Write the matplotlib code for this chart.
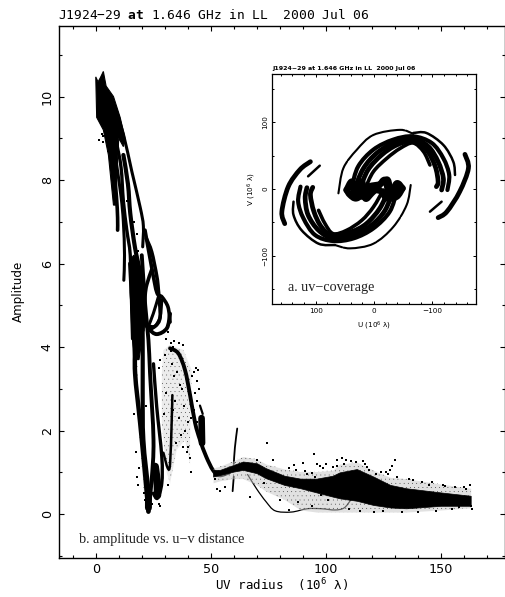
import matplotlib
matplotlib.use("Agg")
import matplotlib.pyplot as plt
from matplotlib.path import Path
from matplotlib.patches import PathPatch
from matplotlib.ticker import MultipleLocator

plt.rcParams['hatch.linewidth'] = 0.0
plt.rcParams['font.family'] = ['DejaVu Sans']
plt.rcParams['mathtext.fontset'] = 'custom'
plt.rcParams['mathtext.rm'] = 'DejaVu Sans Mono'
plt.rcParams['mathtext.bf'] = 'DejaVu Sans Mono:bold'
plt.rcParams['mathtext.default'] = 'regular'

TITLE_MAIN = "J1924\u221229 $\\mathbf{at}$ 1.646 GHz in LL  2000 Jul 06"
TITLE_INSET = "J1924\u221229 at 1.646 GHz in LL  2000 Jul 06"
MAIN_XLABEL = "UV radius  (10$^{6}$ \u03bb)"
MAIN_YLABEL = "Amplitude"
INSET_XLABEL = "U (10$^{6}$ \u03bb)"
INSET_YLABEL = "V (10$^{6}$ \u03bb)"
NOTE_A = "a. uv\u2212coverage"
NOTE_B = "b. amplitude vs. u\u2212v distance"

# ---- amplitude vs radius (radius, amplitude) ----
mass_top = [(0,10.47),(1,10.35),(2,10.45),(3.3,10.6),(4.5,10.25),(7.7,10),(10.6,9.5),(12.7,9.0),(12,8.8),(10,9.0),
            (9.5,8.5),(8.7,7.4),(7.7,7.4),(5.5,8.6),(3.3,9.2),(0.4,9.5)]
mass_mid = [(15.2,6.1),(16.5,6.2),(18.5,6.1),(20,5.6),(21,5.0),(20.5,4.4),(19.6,4.0),(18.8,3.7),(16.5,3.7),(15.6,4.5),(15,5.3)]
track_a = [(8.4,9.75),(12,9.1),(15.7,8.2),(19.3,7.35),(20.7,6.9),(20.4,6.4)]
track_b = [(6,9.5),(7,8.8),(8,8.2),(9,7.6),(9.5,7.1),(9.5,6.8)]
track_c = [(7,9.2),(9,8.4),(11,7.6),(12,7.0),(12.5,6.2),(12.2,5.6)]
track_d = [(9,8.9),(11,8.3),(12,7.5),(13.5,6.8),(15,6.2),(15.5,5.2),(16,4.2)]
track_e = [(12,8.6),(14,7.9),(15,7.2),(17,6.4),(19.3,5.77),(20.7,5.12),(21.5,4.6)]
track_f = [(21.4,6.8),(24.5,5.85),(26.6,5.3),(28.8,5.2),(31.4,4.96),(32.3,4.6)]
track_g = [(22,6.6),(24.3,6.28),(26.5,5.7),(27.2,5.37),(28,4.73),(25.8,4.5),(22.9,4.5)]
loop_outer = [(32.3,4.8),(30.9,4.45),(26.5,4.31),(22.9,4.45),(20,4.73),(18.5,5.12)]
loop_mid = [(28.7,5.12),(28,4.73),(25.8,4.5),(23,4.4)]
loop_inner = [(27.2,5.2),(25,4.8),(22.9,4.5)]
track_h = [(24.3,5.85),(22.2,5.5),(21.4,5.2),(20.5,4.4)]
strand_1 = [(15,6.0),(16,5.0),(17.1,4.17),(17.1,3.37),(19.3,2.18),(21.4,0.98),(22.9,0.06)]
strand_2 = [(18,6.0),(20,5.0),(20.4,4.17),(20.4,2.97),(20.7,1.78),(22.9,0.58)]
strand_3 = [(20,6.2),(21.5,5.0),(22.9,4.17),(23.6,3.37),(25.1,1.78),(24.3,0.82),(22.9,0.06)]
strand_4 = [(25.1,3.6),(26.5,2.57),(28.7,1.38),(28.7,0.74),(26.8,0.38),(25.0,0.5)]
bulb = [(25.8,1.14),(26.8,0.7),(26.8,0.45)]
foot = [(22.9,0.55),(22.9,0.15)]
strand_5 = [(29.4,1.47),(31.3,1.1),(32.3,1.2),(33,2.2),(33.3,2.85)]
arc_peak = [(32.3,3.97),(35.9,3.85),(38.8,3.45),(41,2.85),(43.2,2.18),(45.3,1.78),(48,1.38),(51,1.05),(53.8,0.93),(58,1.0)]
clump = [(46,2.3),(46.2,1.7)]
dash = [(45.3,2.6),(46.5,2.4)]
spike_low = [(59.5,0.55),(60,0.9)]
spike_high = [(60,1.2),(60.5,1.6),(61.5,2.05)]
dip = [(66,0.95),(70,0.6),(74,0.3),(78,0.08),(85,0.05),(92,0.13),(98,0.13),(104,0.1),(108,0.15),(111,0.35)]

band_x = [51,54,60,64,70,74,82,89,96,103,106,113.5,120.7,128,135,150,163]
band_hi = [1.06,1.06,1.18,1.26,1.22,1.1,0.92,0.85,0.85,0.92,1.0,1.08,0.9,0.7,0.62,0.52,0.44]
band_lo = [0.9,0.94,1.02,1.06,0.98,0.86,0.7,0.62,0.52,0.42,0.38,0.32,0.22,0.16,0.14,0.2,0.2]
fringe_hi = [1.1,1.15,1.28,1.38,1.32,1.2,1.08,1.02,1.02,1.05,1.2,1.25,1.05,0.88,0.85,0.72,0.62]
fringe_lo = [0.75,0.8,0.85,0.85,0.7,0.55,0.35,0.1,0.05,0.05,0.05,0.05,0.05,0.05,0.05,0.1,0.15]

cloud_peak = [(28.7,3.37),(29.4,3.93),(32.3,4.05),(38.1,3.93),(41.7,3.45),(41,1.78),(41,1.2),(38.8,1.78),
              (35.2,1.54),(32.3,0.74),(30.8,1.0),(28.7,2.2)]
fringe_left = [(16,4.6),(17.5,3),(19.5,1.5),(21,0.4),(21.8,0.6),(20.5,1.6),(18.5,3),(17.5,4.6)]

stray_x = [3.0,3.3,2.6,1.6,5.5,8.0,9.5,13.7,15.2,16.5,17.8,14.8,18.2,30.5,31.5,32.8,33.5,31,32.5,30,33,
           42.5,43.5,44.5,44,43,45,42,41.2,40.8,41.5,38,36,34,28,27.5,19.5,18.8,22,20.5,19,18,
           17.5,16.8,17,18.5,21,21.2,24.5,27.5,28,31.5,40,74.5,77,70,73,67,95,97.5,96,95.2,107,
           109,130,129,126,128,138,145,152,160,162.5,163,163.5,119,122,117,113,105,100,90,86,92,
           56,52.5,52,54,80,84,88,94,98,101,110,115,121,125,133,140,148,155,158,
           36.5,38.5,40,37,34.5,39.5,35.5,42.8,44.2,43.8,34,36,37.5,39,35,33.5,30.5,29.8,38,
           84,87,91,94,99,103,105,108,111,116,118,124,127,131,136,142,146,151,156,161]
stray_y = [8.9,9.05,9.1,8.95,8.7,8.5,7.3,7.5,7.2,7.0,6.7,7.6,6.3,4.2,4.35,4.1,4.0,4.5,3.9,3.8,3.6,
           3.4,3.5,3.45,3.2,2.9,3.0,3.3,1.0,1.35,2.3,4.05,4.1,4.15,3.7,3.5,4.9,5.4,2.6,2.1,1.1,0.9,
           1.5,2.4,3.1,0.7,0.5,0.35,0.25,0.25,0.2,0.7,1.6,1.7,1.3,1.3,0.75,0.4,1.45,1.15,1.2,0.9,1.35,
           1.3,1.3,1.15,1.0,1.05,0.82,0.7,0.68,0.66,0.7,0.2,0.12,1.05,0.95,1.2,1.25,1.3,1.2,1.22,1.18,0.95,
           0.65,0.6,0.85,0.55,0.35,0.1,0.3,0.2,0.45,0.35,0.12,0.08,0.05,0.08,0.06,0.04,0.08,0.12,0.16,
           3.1,2.6,2.2,1.9,2.7,1.5,3.4,2.5,2.7,2.2,3.3,2.3,3.0,2.0,1.7,2.5,2.9,2.4,1.6,
           1.1,1.05,1.04,0.98,1.1,1.12,1.15,1.2,1.28,1.27,1.12,1.0,0.95,0.88,0.84,0.78,0.76,0.7,0.66,0.6]

# ---- uv coverage (U, V) ----
ur_outer = [(61,-6.5),(52.6,31),(29.7,58.6),(1.1,81),(-44.6,88.7),(-67.4,82.7)]
ur_outer2 = [(-67.4,84),(-90,84),(-119,66),(-136,41),(-139,21)]
ur_far = [(-156,52),(-162,31),(-147,-4),(-125,-34),(-110,-43)]
ur_dash = [(-96,-34),(-116,-19)]
ur_a = [(38,3.5),(27,34),(1,59),(-33,74),(-67,79),(-99,69),(-119,46),(-129,21),(-126,-1.5)]
ur_b = [(33,1),(18,31),(-5,54),(-36,70),(-67,75),(-93,64),(-110,41),(-119,16),(-116,-1.5)]
ur_c = [(24,1),(10,29),(-13,51),(-39,66),(-67,72),(-90,59),(-105,34),(-110,11),(-107,3.5)]
ur_d = [(15,1),(1,26),(-22,46),(-45,61),(-67,69),(-85,56),(-96,36)]
ll_outer = [(-63,6),(-56,-24),(-33,-57),(1,-82),(41,-89),(67,-84)]
ll_outer2 = [(67,-84),(95,-82),(124,-62),(138,-39),(138,-19)]
ll_far = [(153,-52),(158,-34),(147,3.5),(127,29),(109,41)]
ll_dash = [(113,19),(93,35)]
ll_a = [(-39,-4),(-27,-34),(1,-59),(35,-74),(70,-78),(101,-69),(121,-44),(130,-19),(126,3.5)]
ll_b = [(-33,-1.5),(-19,-32),(4,-54),(35,-69),(70,-74),(95,-62),(113,-39),(118,-14),(115,2)]
ll_c = [(-25,-1.5),(-10,-29),(13,-52),(38,-64),(70,-71),(90,-57),(103,-34),(109,-9),(105,2.5)]
ll_d = [(-16,-1.5),(1,-27),(21,-47),(47,-62),(70,-67),(84,-52),(95,-32)]
centre_a = [(47,-1.5),(38,11),(33,-9),(21,11),(15,-14),(4,-6.5),(-7.4,3.5),(-19,13.5),(-27,-9),(-39,8.5),(-49,1)]
centre_b = [(-49,1),(-39,-11.5),(-22,-14),(-13,-4),(-1.7,-1.5),(12,-4),(30,-14),(41,-9),(47,-1.5)]
centre_c = [(38,-10),(28,8),(20,-12),(12,3),(-12,8),(-24,14),(-32,-12),(-42,5)]


def curve(ax, pts, lw, ls='-'):
    verts = [pts[0]]
    codes = [Path.MOVETO]
    for i in range(len(pts) - 1):
        p0 = pts[max(i - 1, 0)]
        p1 = pts[i]
        p2 = pts[i + 1]
        p3 = pts[min(i + 2, len(pts) - 1)]
        c1 = (p1[0] + (p2[0] - p0[0]) / 6, p1[1] + (p2[1] - p0[1]) / 6)
        c2 = (p2[0] - (p3[0] - p1[0]) / 6, p2[1] - (p3[1] - p1[1]) / 6)
        verts += [c1, c2, p2]
        codes += [Path.CURVE4] * 3
    ax.add_patch(PathPatch(Path(verts, codes), fc='none', ec='k', lw=lw, ls=ls,
                           capstyle='round', joinstyle='round'))


def style(ax, w):
    for s in ax.spines.values():
        s.set_linewidth(w)
    ax.tick_params(which='both', direction='in', top=True, right=True, width=w * 0.8)


fig = plt.figure(figsize=(5.05, 5.97), dpi=100)
W, H = 505.0, 597.0

# main panel
ax = fig.add_axes([58.5 / W, 1 - 558 / H, (504.5 - 58.5) / W, (558 - 25.5) / H])
ax.set_xlim(-16.2, 177.7)
ax.set_ylim(-1.05, 11.7)
ax.xaxis.set_major_locator(MultipleLocator(50))
ax.xaxis.set_minor_locator(MultipleLocator(10))
ax.yaxis.set_major_locator(MultipleLocator(2))
ax.yaxis.set_minor_locator(MultipleLocator(1))
style(ax, 1.0)
ax.tick_params(which='major', length=3.8, labelsize=9.2, pad=3.5)
ax.tick_params(which='minor', length=2.0)
for t in ax.get_yticklabels():
    t.set_rotation(90)
    t.set_va('center')
ax.set_xlabel(MAIN_XLABEL, fontsize=9, family='DejaVu Sans Mono', labelpad=0.5)
ax.set_ylabel(MAIN_YLABEL, fontsize=8.6, labelpad=11)
ax.set_title(TITLE_MAIN, fontsize=9.25, family='DejaVu Sans Mono', loc='left', pad=5)

ax.fill([p[0] for p in mass_top], [p[1] for p in mass_top], color='k', lw=0.8)
ax.fill([p[0] for p in mass_mid], [p[1] for p in mass_mid], color='k', lw=0.8)
for tr, lw in [(track_a, 2.2), (track_b, 2.6), (track_c, 2.2), (track_d, 2.4), (track_e, 3.0),
               (track_f, 2.6), (track_g, 2.6), (loop_outer, 2.8), (loop_mid, 2.2), (loop_inner, 2.2),
               (track_h, 2.6), (strand_1, 3.2), (strand_2, 3.0), (strand_3, 2.8), (strand_4, 2.4),
               (bulb, 5.5), (foot, 5.0), (strand_5, 1.8), (arc_peak, 2.8), (clump, 4.8), (dash, 1.6),
               (spike_low, 1.3), (spike_high, 1.3), (dip, 0.9)]:
    curve(ax, tr, lw)
ax.fill_between(band_x, fringe_lo, fringe_hi, color='#c4c4c4', lw=0, alpha=0.5)
ax.fill_between(band_x, fringe_lo, fringe_hi, facecolor='none', edgecolor='k', hatch='....', lw=0)
ax.fill_between(band_x, band_lo, band_hi, color='k', lw=0.5)
for poly in (cloud_peak, fringe_left):
    ax.fill([p[0] for p in poly], [p[1] for p in poly], facecolor='#ececec', edgecolor='k',
            hatch='....', lw=0, zorder=0.5)
ax.scatter(stray_x, stray_y, s=2.2, c='k', marker='s', lw=0)
ax.text(-7.3, -0.6, NOTE_B, family='Liberation Serif', fontsize=10.2, color='#222222', va='center')

# inset panel
ins = fig.add_axes([272.3 / W, 1 - 303.7 / H, 204 / W, 229.4 / H])
ins.set_xlim(174.4, -175.5)
ins.set_ylim(-172, 172)
ins.xaxis.set_major_locator(MultipleLocator(100))
ins.xaxis.set_minor_locator(MultipleLocator(20))
ins.yaxis.set_major_locator(MultipleLocator(100))
ins.yaxis.set_minor_locator(MultipleLocator(50))
style(ins, 0.9)
ins.tick_params(which='major', length=2.4, labelsize=5.2, pad=3)
ins.tick_params(which='minor', length=1.3)
for t in ins.get_yticklabels():
    t.set_rotation(90)
    t.set_va('center')
ins.set_xlabel(INSET_XLABEL, fontsize=5.2, labelpad=4.5)
ins.set_ylabel(INSET_YLABEL, fontsize=5.2, labelpad=3)
ins.set_title(TITLE_INSET, fontsize=4.5, loc='left', pad=3, fontweight='bold')
for tr, lw in [(ur_far, 3.4), (ur_dash, 1.8), (ur_a, 3.0), (ur_b, 3.4), (ur_c, 3.4), (ur_d, 2.6),
               (ll_far, 3.4), (ll_dash, 1.8), (ll_a, 3.0), (ll_b, 3.4), (ll_c, 3.4), (ll_d, 2.6)]:
    curve(ins, tr, lw)
for tr in (ur_outer, ll_outer):
    curve(ins, tr, 1.5, ls=(0, (16, 0.7)))
for tr in (ur_outer2, ll_outer2):
    curve(ins, tr, 1.8)
for tr, lw in ((centre_a, 4.6), (centre_b, 4.6), (centre_c, 4.0)):
    curve(ins, tr, lw)
ins.text(148, -148, NOTE_A, family='Liberation Serif', fontsize=10.2, color='#222222', va='center')

fig.savefig('out.png', dpi=100)
